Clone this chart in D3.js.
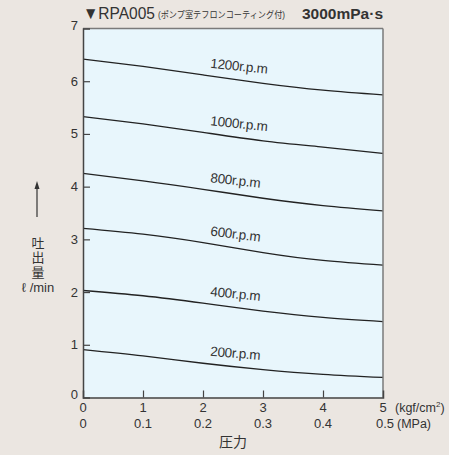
<!DOCTYPE html>
<html><head><meta charset="utf-8">
<script src="https://cdn.jsdelivr.net/npm/d3@7"></script>
<style>
html,body{margin:0;padding:0;background:#ebe6e1;}
svg{display:block;}
text{font-family:"Liberation Sans","Noto Sans CJK JP",sans-serif;fill:#333;}
</style></head>
<body><svg id="c" width="449" height="455"></svg>
<script>
const pressures = [0, 1, 2, 3, 4, 5];               // kgf/cm²
const mpaLabels = ["0", "0.1", "0.2", "0.3", "0.4", "0.5"];
const yTicks = [0, 1, 2, 3, 4, 5, 6, 7];
const rpmLabels = ["1200r.p.m", "1000r.p.m", "800r.p.m", "600r.p.m", "400r.p.m", "200r.p.m"];
const flow1200 = [6.42, 6.28, 6.12, 5.96, 5.83, 5.74];
const flow1000 = [5.33, 5.19, 5.03, 4.87, 4.75, 4.63];
const flow800  = [4.25, 4.11, 3.95, 3.78, 3.64, 3.54];
const flow600  = [3.21, 3.10, 2.94, 2.75, 2.60, 2.51];
const flow400  = [2.03, 1.93, 1.79, 1.64, 1.52, 1.44];
const flow200  = [0.91, 0.79, 0.65, 0.53, 0.44, 0.38];
const series = [flow1200, flow1000, flow800, flow600, flow400, flow200];

const svg = d3.select("#c");
const L = 83, R = 383, T = 28.5, B = 397.5;
const x = d3.scaleLinear().domain([0, 5]).range([L, R]);
const y = d3.scaleLinear().domain([0, 7]).range([B, T]);

svg.append("rect").attr("x", L).attr("y", T).attr("width", R - L).attr("height", B - T)
  .attr("fill", "#e8f6fc");

const line = d3.line().x((d, i) => x(pressures[i])).y(d => y(d)).curve(d3.curveNatural);
svg.append("clipPath").attr("id", "clp").append("rect")
  .attr("x", L).attr("y", T).attr("width", R - L).attr("height", B - T);
series.forEach((s, k) => {
  svg.append("path").datum(s).attr("d", line).attr("fill", "none")
    .attr("stroke", "#222").attr("stroke-width", 1.3).attr("clip-path", "url(#clp)");
  const pl = 2.1;
  const i0 = Math.floor(pl), f = pl - i0;
  const v = s[i0] * (1 - f) + s[i0 + 1] * f;
  const slope = (y(s[i0 + 1]) - y(s[i0])) / (x(1) - x(0));
  const ang = Math.atan(slope) * 180 / Math.PI * 0.75;
  svg.append("text").attr("text-anchor", "start")
    .attr("transform", `translate(${x(pl) + 1},${y(v) - 8}) rotate(${ang})`)
    .attr("font-size", 13.5).attr("letter-spacing", -0.3).attr("fill", "#3a3a3a")
    .text(rpmLabels[k]);
});

svg.append("line").attr("x1", L).attr("x2", R).attr("y1", T).attr("y2", T).attr("stroke", "#7a7a7a").attr("stroke-width", 1.5);
svg.append("line").attr("x1", R).attr("x2", R).attr("y1", T).attr("y2", B).attr("stroke", "#7a7a7a").attr("stroke-width", 1.5);

const yAxis = d3.axisRight(y).tickValues(yTicks).tickSize(7).tickFormat("");
const gy = svg.append("g").attr("transform", `translate(${L},0)`).call(yAxis);
gy.select(".domain").attr("stroke", "#444").attr("stroke-width", 1.5);
gy.selectAll(".tick line").attr("stroke", "#444").attr("stroke-width", 1.2);
gy.selectAll(".tick").filter(d => d === 0 || d === 7).select("line").remove();
svg.selectAll(".ylab").data(yTicks).enter().append("text")
  .attr("x", L - 5).attr("y", d => y(d) + 4.5 - (d === 7 ? 3 : 0) - (d === 0 ? 3 : 0))
  .attr("text-anchor", "end").attr("font-size", 13).text(d => d);

const xAxis = d3.axisTop(x).tickValues(pressures).tickSize(7).tickFormat("");
const gx = svg.append("g").attr("transform", `translate(0,${B})`).call(xAxis);
gx.select(".domain").attr("stroke", "#444").attr("stroke-width", 1.5);
gx.selectAll(".tick line").attr("stroke", "#444").attr("stroke-width", 1.2);
gx.selectAll(".tick").filter(d => d === 0 || d === 5).select("line").remove();
svg.selectAll(".xlab1").data(pressures).enter().append("text")
  .attr("x", d => x(d)).attr("y", 412).attr("text-anchor", "middle").attr("font-size", 13).text(d => d);
svg.selectAll(".xlab2").data(mpaLabels).enter().append("text")
  .attr("x", (d, i) => x(pressures[i]) + (i === 5 ? 2 : 0)).attr("y", 428).attr("text-anchor", "middle").attr("font-size", 13).text(d => d);
svg.append("text").attr("x", 395).attr("y", 412).attr("font-size", 12.5).html('(kgf/cm<tspan dy="-5" font-size="8">2</tspan><tspan dy="5">)</tspan>');
svg.append("text").attr("x", 397).attr("y", 428).attr("font-size", 12.5).text("(MPa)");
svg.append("text").attr("x", 233).attr("y", 447).attr("text-anchor", "middle").attr("font-size", 14).text("圧力");

svg.append("line").attr("x1", 37).attr("x2", 37).attr("y1", 217).attr("y2", 186).attr("stroke", "#333").attr("stroke-width", 1.2);
svg.append("path").attr("d", "M37,181 L34.5,189 L39.5,189 Z").attr("fill", "#333");
["吐", "出", "量"].forEach((c, i) => {
  svg.append("text").attr("x", 38).attr("y", 248 + i * 14.3).attr("text-anchor", "middle").attr("font-size", 13).text(c);
});
svg.append("text").attr("x", 38).attr("y", 291.5).attr("text-anchor", "middle").attr("font-size", 13).text("ℓ /min");

svg.append("text").attr("x", 83).attr("y", 19).attr("font-size", 17)
  .attr("textLength", 72).attr("lengthAdjust", "spacingAndGlyphs").text("▼RPA005");
svg.append("text").attr("x", 158).attr("y", 18).attr("font-size", 9)
  .attr("textLength", 127).attr("lengthAdjust", "spacingAndGlyphs").text("(ポンプ室テフロンコーティング付)");
svg.append("text").attr("x", 302).attr("y", 19).attr("font-size", 14.5).attr("font-weight", "bold")
  .attr("fill", "#2a2a2a").attr("textLength", 81).attr("lengthAdjust", "spacingAndGlyphs").text("3000mPa·s");
</script></body></html>
